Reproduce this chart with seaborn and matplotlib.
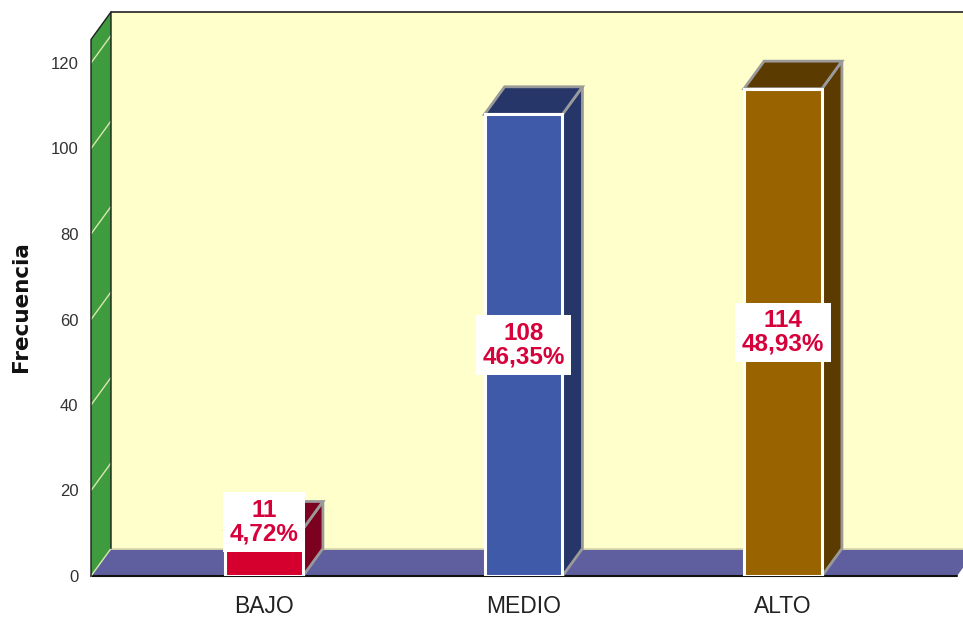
import matplotlib
matplotlib.use("Agg")
import matplotlib.pyplot as plt
import seaborn as sns
import numpy as np
from matplotlib.patches import Polygon

categories = ["BAJO", "MEDIO", "ALTO"]
values = [11, 108, 114]
percent_labels = ["4,72%", "46,35%", "48,93%"]
y_ticks = [0, 20, 40, 60, 80, 100, 120]

front_colors = ["#D6002F", "#3E5AA8", "#996300"]
dark_colors = ["#7C0020", "#263668", "#5C3B00"]

sns.set_theme(style="white")
plt.rcParams["font.family"] = ["Liberation Sans", "DejaVu Sans"]

W, H = 963, 617
fig = plt.figure(figsize=(W / 100, H / 100), dpi=100)
left_px, right_px, top_px, bot_px = 91, 963, 10, 576
ax = fig.add_axes([left_px / W, 1 - bot_px / H, (right_px - left_px) / W, (bot_px - top_px) / H])

px_per_x = 259.5
px_per_y = 4.275
x0 = (left_px - 264) / px_per_x
x1 = (right_px - 264) / px_per_x
ymax = (bot_px - top_px) / px_per_y
ax.set_xlim(x0, x1)
ax.set_ylim(0, ymax)

dx = 20 / px_per_x
dy = 27.5 / px_per_y
wall_top = 125.5
floor_right = (957 - 264) / px_per_x

# back wall
ax.add_patch(Polygon([(x0 + dx, dy), (x1 + 1, dy), (x1 + 1, wall_top + dy), (x0 + dx, wall_top + dy)],
                     closed=True, facecolor="#FFFFCC", edgecolor="none", zorder=0))
ax.plot([x0 + dx, x1 + 1], [wall_top + dy, wall_top + dy], color="#222222", lw=1.2, zorder=0.6, clip_on=False)
ax.plot([x0 + dx, x1 + 1], [dy, dy], color="#E6E6B0", lw=1.2, zorder=0.55)
# floor
ax.add_patch(Polygon([(x0, 0), (floor_right, 0), (floor_right + dx, dy), (x0 + dx, dy)],
                     closed=True, facecolor="#5F5F9F", edgecolor="none", zorder=0.5))
ax.plot([x0, floor_right], [0, 0], color="#111111", lw=1.5, zorder=0.7, clip_on=False)
# left green wall
ax.add_patch(Polygon([(x0, 0), (x0, wall_top), (x0 + dx, wall_top + dy), (x0 + dx, dy)],
                     closed=True, facecolor="#3E9B3E", edgecolor="none", zorder=0.5, clip_on=False))
ax.plot([x0, x0, x0 + dx, x0 + dx], [0, wall_top, wall_top + dy, dy], color="#1E1E1E", lw=1.0,
        zorder=0.8, clip_on=False)
ax.plot([x0, x0 + dx], [0, dy], color="#D8E8B0", lw=1.0, zorder=0.75, clip_on=False)
for t in y_ticks[1:]:
    ax.plot([x0, x0 + dx], [t, t + dy], color="#D8E8B0", lw=1.0, zorder=0.75, clip_on=False)

# front faces via seaborn
sns.barplot(x=categories, y=values, hue=categories, palette=front_colors, width=0.3, saturation=1,
            edgecolor="white", linewidth=2.2, legend=False, ax=ax, zorder=2, dodge=False)
ax.set_xlim(x0, x1)
ax.set_ylim(0, ymax)

bars = [pp for pp in ax.patches if pp.get_zorder() == 2]
for i, p in enumerate(bars):
    bx, bw, bh = p.get_x(), p.get_width(), p.get_height()
    side = [(bx + bw, 0), (bx + bw + dx, dy), (bx + bw + dx, bh + dy), (bx + bw, bh)]
    top = [(bx, bh), (bx + bw, bh), (bx + bw + dx, bh + dy), (bx + dx, bh + dy)]
    ax.add_patch(Polygon(side, closed=True, facecolor=dark_colors[i], edgecolor="#9A9A9A", lw=2, zorder=1.5))
    ax.add_patch(Polygon(top, closed=True, facecolor=dark_colors[i], edgecolor="#9A9A9A", lw=2, zorder=1.5))
    cx = bx + bw / 2
    ly = max(bh / 2, 12.6)
    ax.text(cx, ly, f"{values[i]}\n{percent_labels[i]}", ha="center", va="center",
            fontsize=17.5, fontweight="bold", color="#D6003A", linespacing=1.0, zorder=3,
            bbox=dict(boxstyle="square,pad=0.28", facecolor="white", edgecolor="none"))

ax.set_yticks(y_ticks)
ax.set_yticklabels([str(t) for t in y_ticks], fontsize=12, color="#333333")
ax.tick_params(axis="y", length=0, pad=9)
ax.tick_params(axis="x", length=0, pad=14, labelsize=16.5, labelcolor="#222222")
for s in ax.spines.values():
    s.set_visible(False)
ax.set_xlabel("")
ax.set_ylabel("")
ax.patch.set_alpha(0)
fig.text(21 / W, 1 - 307 / H, "Frecuencia", rotation=90, ha="center", va="center",
         fontsize=15.5, fontweight="bold", color="#111111", family=["DejaVu Sans"])

fig.savefig("out.png", dpi=100)
